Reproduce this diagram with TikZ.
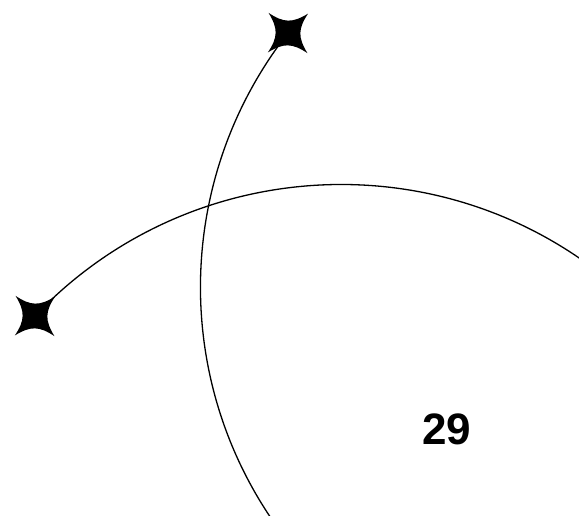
\documentclass[tikz,border=0pt]{standalone}
\usepackage{fontspec}
\setsansfont{Liberation Sans}
\usepackage{tikz}

\begin{document}
\begin{tikzpicture}[
  x=1pt,y=1pt,
  orbit/.style={line width=1.3pt,line cap=round},
  num/.style={inner sep=0pt,font=\sffamily\bfseries\fontsize{44}{50}\selectfont},
  sparkle/.pic={
    \fill (1,0) .. controls (0.36,0.14) and (0.14,0.36) .. (0,1)
      .. controls (-0.14,0.36) and (-0.36,0.14) .. (-1,0)
      .. controls (-0.36,-0.14) and (-0.14,-0.36) .. (0,-1)
      .. controls (0.14,-0.36) and (0.36,-0.14) .. cycle;
  }
]
\path[use as bounding box] (0,0) rectangle (579,515);
\clip (0,0) rectangle (579,515);

% stars
\coordinate (topstar) at (288,482);
\coordinate (leftstar) at (35,199);

% arcs
\draw[orbit] (topstar) arc[start angle=142,end angle=218,radius=413];
\draw[orbit] (leftstar) arc[start angle=136.5,end angle=50,radius=422];

\pic[rotate=44,scale=28] at (topstar) {sparkle};
\pic[rotate=44,scale=28] at (leftstar) {sparkle};

% page number
\node[num] (pagenum) at (447,86) {29};
\end{tikzpicture}
\end{document}
